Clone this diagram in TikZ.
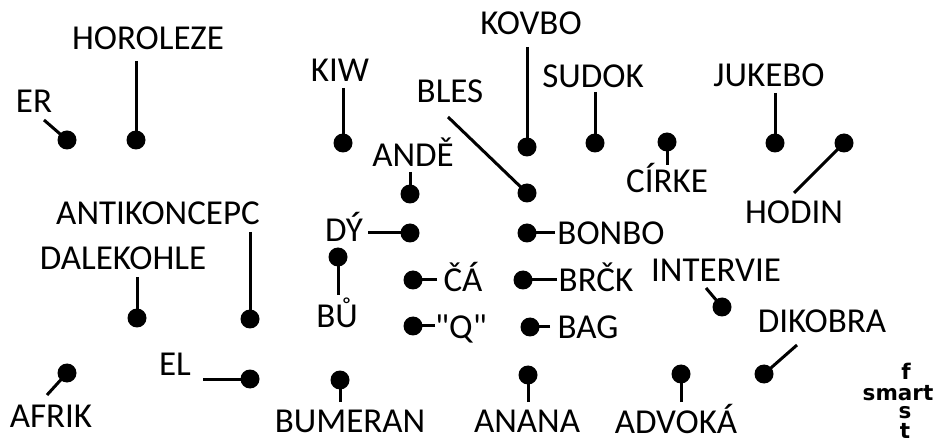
\documentclass[tikz,border=0pt]{standalone}
\usepackage{fontspec}
\setmainfont{Carlito}
\newfontfamily\plaincarlito{Carlito}
\newfontfamily\logofont{DejaVu Sans}
\begin{document}
\begin{tikzpicture}[x=1pt,y=-1pt,
  lbl/.style={font=\fontsize{35}{40}\selectfont, anchor=base, inner sep=0pt},
  logo/.style={font=\logofont\fontsize{21.5}{24}\selectfont\bfseries, anchor=base, inner sep=0pt},
  dot/.style={circle, fill=black, minimum size=19pt, inner sep=0pt},
  conn/.style={line width=3pt}]
\useasboundingbox[fill=white] (0,0) rectangle (940,438);

% labels
\node[lbl] (tER) at (34,113) {ER};
\node[lbl] (tHOR) at (148,50) {HOROLEZE};
\node[lbl] (tKIW) at (340,82) {KIW};
\node[lbl] (tKOV) at (531,35) {KOVBO};
\node[lbl] (tSUD) at (593,88) {SUDOK};
\node[lbl] (tBLES) at (450,103) {BLES};
\node[lbl] (tJUK) at (769,87) {JUKEBO};
\node[lbl] (tAND) at (413,167) {ANDĚ};
\node[lbl] (tCIR) at (667,193) {CÍRKE};
\node[lbl] (tHOD) at (794,224) {HODIN};
\node[lbl] (tANT) at (158,225) {ANTIKONCEPC};
\node[lbl] (tDAL) at (123,270) {DALEKOHLE};
\node[lbl] (tDY) at (344,242) {DÝ};
\node[lbl] (tBON) at (611,245) {BONBO};
\node[lbl] (tBRC) at (596,292) {BRČK};
\node[lbl] (tBAG) at (588,339) {BAG};
\node[lbl] (tCA) at (463,292) {ČÁ};
\node[lbl] (tQ) at (461,339) {\plaincarlito "Q"};
\node[lbl] (tBU) at (337,328) {BŮ};
\node[lbl] (tEL) at (175,375) {EL};
\node[lbl] (tAFR) at (51,427) {AFRIK};
\node[lbl] (tBUM) at (350,432) {BUMERAN};
\node[lbl] (tANA) at (527,432) {ANANA};
\node[lbl] (tADV) at (676,433) {ADVOKÁ};
\node[lbl] (tINT) at (716,282) {INTERVIE};
\node[lbl] (tDIK) at (822,333) {DIKOBRA};

% dots
\node[dot] (dER) at (67,140) {};
\node[dot] (dHOR) at (136,140) {};
\node[dot] (dKIW) at (343,143) {};
\node[dot] (dBLES) at (527,193) {};
\node[dot] (dKOV) at (527,147) {};
\node[dot] (dSUD) at (595,143) {};
\node[dot] (dJUK) at (775,143) {};
\node[dot] (dAND) at (410,194) {};
\node[dot] (dCIR) at (667,142) {};
\node[dot] (dHOD) at (844,143) {};
\node[dot] (dANT) at (250,319) {};
\node[dot] (dDAL) at (137,318) {};
\node[dot] (dDY) at (410,233) {};
\node[dot] (dBU) at (338,257) {};
\node[dot] (dCA) at (413,280) {};
\node[dot] (dQ) at (413,326) {};
\node[dot] (dBON) at (527,233) {};
\node[dot] (dBRC) at (523,280) {};
\node[dot] (dBAG) at (530,327) {};
\node[dot] (dEL) at (250,379) {};
\node[dot] (dAFR) at (67,373) {};
\node[dot] (dBUM) at (340,380) {};
\node[dot] (dANA) at (528,375) {};
\node[dot] (dADV) at (681,374) {};
\node[dot] (dINT) at (722,307) {};
\node[dot] (dDIK) at (764,374) {};

% free ends of connectors
\coordinate (cER) at (44,120);
\coordinate (cHOR) at (136,61);
\coordinate (cKIW) at (343,88);
\coordinate (cBLES) at (448,117);
\coordinate (cKOV) at (527,47);
\coordinate (cSUD) at (595,92);
\coordinate (cJUK) at (775,93);
\coordinate (cAND) at (410,172);
\coordinate (cCIR) at (667,165);
\coordinate (cHOD) at (794,193);
\coordinate (cANT) at (250,232);
\coordinate (cDAL) at (137,277);
\coordinate (cDY) at (368,233);
\coordinate (cBU) at (338,295);
\coordinate (cCA) at (437,280);
\coordinate (cQ) at (435,326);
\coordinate (cBON) at (555,233);
\coordinate (cBRC) at (557,280);
\coordinate (cBAG) at (550,327);
\coordinate (cEL) at (203,379);
\coordinate (cAFR) at (47,395);
\coordinate (cBUM) at (340,402);
\coordinate (cANA) at (528,402);
\coordinate (cADV) at (681,402);
\coordinate (cINT) at (706,288);
\coordinate (cDIK) at (797,345);

\foreach \n in {ER,HOR,KIW,BLES,KOV,SUD,JUK,AND,CIR,HOD,ANT,DAL,DY,BU,CA,Q,BON,BRC,BAG,EL,AFR,BUM,ANA,ADV,INT,DIK}
  \draw[conn] (c\n) -- (d\n.center);

% logo
\node[logo] (lsmart) at (898,400) {smart};
\node[logo] (lf) at (906,380) {f};
\node[logo] (ls) at (905,418) {s};
\node[logo] (lt) at (905,438) {t};
\end{tikzpicture}
\end{document}
